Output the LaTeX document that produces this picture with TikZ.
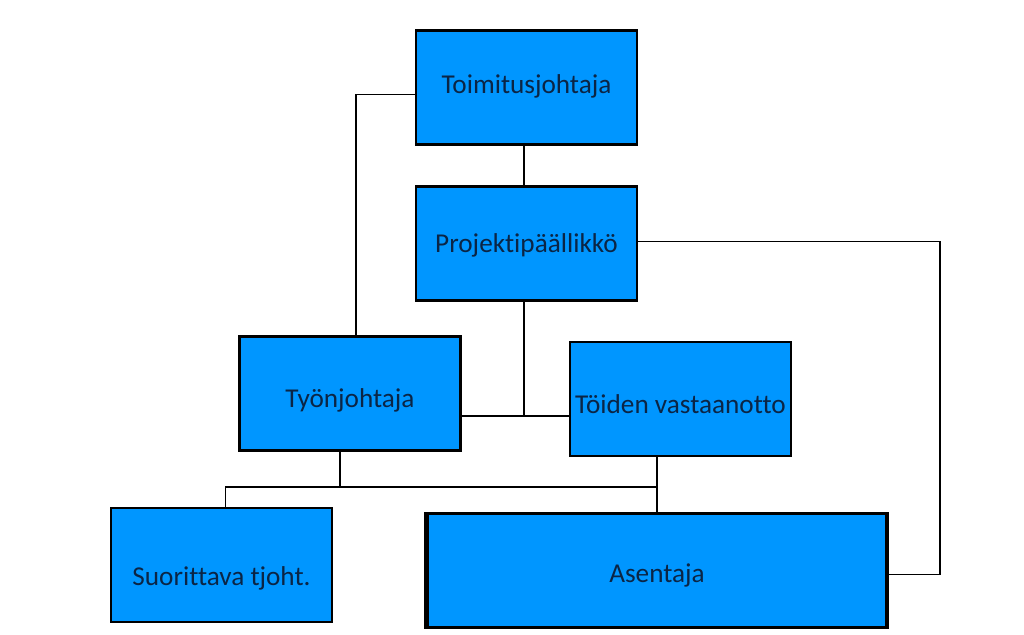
\documentclass[tikz,border=0pt]{standalone}
\usepackage{fontspec}
\setmainfont[Ligatures=NoCommon]{Carlito}
\usepackage{tikz}
\usetikzlibrary{positioning, calc}
\definecolor{BoxBlue}{RGB}{0, 150, 255}
\definecolor{InkNavy}{HTML}{0B2545}

\begin{document}
\begin{tikzpicture}[x=0.02cm, y=-0.02cm,
    orgbox/.style={draw=black, line width=1.4pt, fill=BoxBlue, text=InkNavy,
        minimum width=4.42cm, minimum height=2.28cm, inner sep=0pt,
        text height=0.35cm, text depth=0.11cm,
        font=\fontsize{15.5pt}{18pt}\selectfont},
    link/.style={draw=black, line width=0.7pt}]
    \useasboundingbox (0, 0) rectangle (1024, 635);

    % Management
    \node[orgbox] (toim) at (526.5, 87.5) {Toimitusjohtaja};
    \node[orgbox, text height=0.47cm] (proj) at (526.5, 243.5) {Projektipäällikkö};

    % Middle level
    \node[orgbox, text height=0.67cm] (tyon) at (350, 393.5) {Työnjohtaja};
    \node[orgbox, text height=0.67cm] (toiden) at (680.5, 399) {Töiden vastaanotto};

    % Field level
    \node[orgbox, text height=0.91cm] (suor) at (221.5, 565) {Suorittava tjoht.};
    \node[orgbox, text height=0.59cm, minimum width=9.16cm] (asen) at (657, 570.5) {Asentaja};
    \draw[line width=3pt] (asen.north west) -- (asen.south west);
    \draw[line width=2.4pt] (asen.north east) -- (asen.south east);

    % Junction points
    \coordinate (midbus) at (524, 416);
    \coordinate (lowbus) at (0, 487);
    \coordinate (rightrun) at (940, 0);

    % Connectors
    \draw[link] ($(toim.west)+(0,7)$) -| ($(tyon.north)+(6,0)$);
    \draw[link] (toim.south -| midbus) -- (proj.north -| midbus);
    \draw[link] (proj.south -| midbus) -- (midbus);
    \draw[link] (tyon.east |- midbus) -- (toiden.west |- midbus);
    \draw[link] ($(tyon.south)+(-10,0)$) -- ($(tyon.south |- lowbus)+(-10,0)$);
    \draw[link] ($(suor.north)+(4,0)$) -- ($(suor.north |- lowbus)+(4,0)$) -- (asen.north |- lowbus);
    \draw[link] (asen.north |- toiden.south) -- (asen.north);
    \draw[link] ($(proj.east)+(0,-2)$) -- ($(proj.east -| rightrun)+(0,-2)$) -- ($(asen.east -| rightrun)+(0,4)$) -- ($(asen.east)+(0,4)$);
\end{tikzpicture}
\end{document}
